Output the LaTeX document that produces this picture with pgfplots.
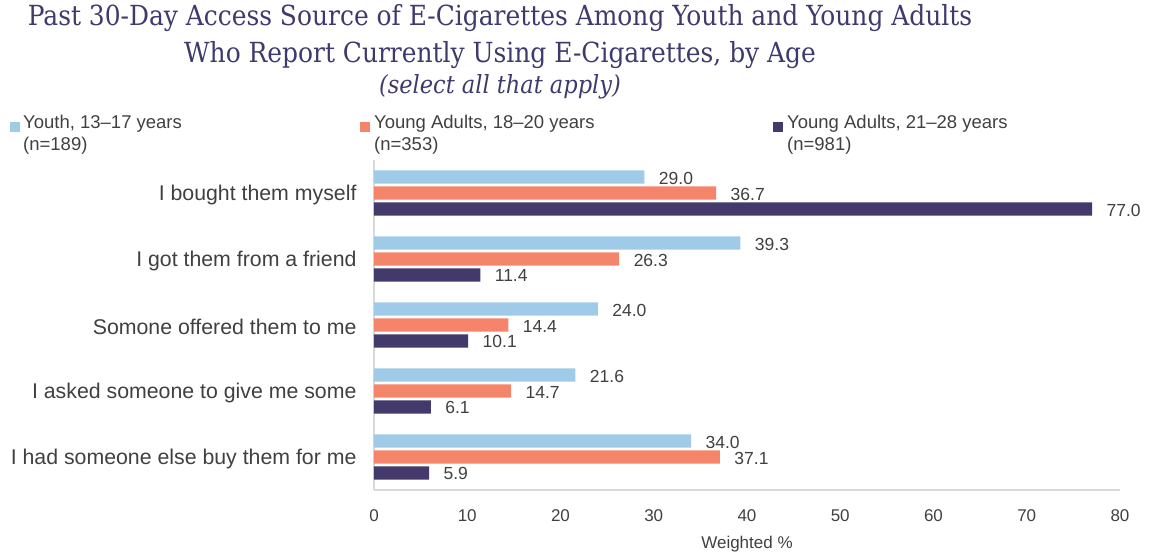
\documentclass[border=0pt]{standalone}
\usepackage{pgfplots}
\pgfplotsset{compat=1.18}
\usepackage{fontspec}
\setmainfont{Liberation Sans}
\newfontfamily\titlefont{DejaVu Serif Condensed}
\definecolor{cyouth}{HTML}{A0CBE8}
\definecolor{cya}{HTML}{F4846A}
\definecolor{cold}{HTML}{433A6B}
\definecolor{ctitle}{HTML}{3F3A6E}
\definecolor{ctext}{HTML}{404040}
\definecolor{caxis}{HTML}{D9D9D9}
\begin{document}
\begin{tikzpicture}
\path[use as bounding box] (-374bp,-62bp) rectangle (783bp,490bp);
\begin{axis}[at={(0,0)}, anchor=south west, scale only axis,
  width=746bp, height=330bp,
  xbar, xmin=0, xmax=80, ymin=-0.5, ymax=4.5,
  bar width=0.2,
  ytick={0,...,4},
  yticklabels={I had someone else buy them for me, I asked someone to give me some, Somone offered them to me, I got them from a friend, I bought them myself},
  xtick={0,10,...,80},
  axis x line*=bottom, axis y line*=left,
  axis line style={caxis, line width=1.5bp, -},
  major tick length=0pt,
  /pgf/number format/assume math mode=true,
  xticklabel style={font=\fontsize{17bp}{20bp}\selectfont, text=ctext, yshift=-16bp},
  yticklabel style={font=\fontsize{21.3bp}{24bp}\selectfont, text=ctext, xshift=-14bp, yshift=-2bp},
  xlabel={Weighted \%},
  xlabel style={font=\fontsize{17bp}{20bp}\selectfont, text=ctext, yshift=-8bp},
  nodes near coords,
  nodes near coords style={font=\fontsize{17.5bp}{20bp}\selectfont, text=ctext, anchor=west, xshift=11bp, yshift=-1bp,
    /pgf/number format/.cd, fixed, fixed zerofill, precision=1, assume math mode=true},
  clip=false,
]
\addplot[draw=none, fill=cyouth, bar shift=0.242] coordinates {(29.0,4) (39.3,3) (24.0,2) (21.6,1) (34.0,0)};
\addplot[draw=none, fill=cya, bar shift=0] coordinates {(36.7,4) (26.3,3) (14.4,2) (14.7,1) (37.1,0)};
\addplot[draw=none, fill=cold, bar shift=-0.242] coordinates {(77.0,4) (11.4,3) (10.1,2) (6.1,1) (5.9,0)};
\end{axis}
% title
\node[font=\titlefont\fontsize{27.7bp}{30bp}\selectfont, text=ctitle] at (126bp,472bp) {Past 30-Day Access Source of E-Cigarettes Among Youth and Young Adults};
\node[font=\titlefont\fontsize{27.7bp}{30bp}\selectfont, text=ctitle] at (126bp,435bp) {Who Report Currently Using E-Cigarettes, by Age};
\node[font=\titlefont\itshape\fontsize{25bp}{30bp}\selectfont, text=ctitle] at (126bp,403bp) {(select all that apply)};
% legend
\fill[cyouth] (-364bp,358bp) rectangle (-354bp,368bp);
\node[anchor=north west, inner sep=0pt, align=left, font=\fontsize{18.5bp}{22bp}\selectfont, text=ctext] at (-351bp,375bp) {Youth, 13--17 years\\(n=189)};
\fill[cya] (-14bp,358bp) rectangle (-4bp,368bp);
\node[anchor=north west, inner sep=0pt, align=left, font=\fontsize{18.5bp}{22bp}\selectfont, text=ctext] at (0bp,375bp) {Young Adults, 18--20 years\\(n=353)};
\fill[cold] (399bp,358bp) rectangle (409bp,368bp);
\node[anchor=north west, inner sep=0pt, align=left, font=\fontsize{18.5bp}{22bp}\selectfont, text=ctext] at (413bp,375bp) {Young Adults, 21--28 years\\(n=981)};
\end{tikzpicture}
\end{document}
